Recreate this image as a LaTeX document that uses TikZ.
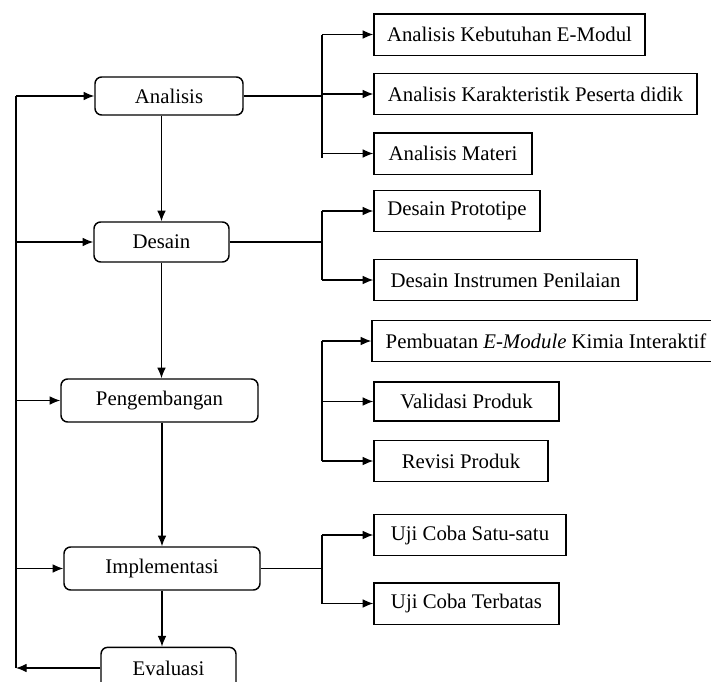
\documentclass[tikz,border=0pt]{standalone}
\usepackage{fontspec}
\setmainfont{Liberation Serif}
\usepackage{tikz}
\usetikzlibrary{arrows.meta}

\begin{document}
\begin{tikzpicture}[x=0.75pt,y=-0.75pt,
tahap/.style={draw,line width=1.1pt,rounded corners=5pt,inner sep=0pt,minimum width=#1,minimum height=31pt},
kotak/.style={draw,line width=1pt,inner sep=0pt,minimum width=#1,minimum height=31pt},
panah/.style={-{Latex[length=8pt,width=6.5pt]}},
garis/.style={line width=0.9pt}]
\useasboundingbox (0,0) rectangle (711,682);
\clip (0,0) rectangle (711,682);
\fontsize{15.6}{18}\selectfont

\node[tahap=111pt,minimum height=28.5pt] (ana) at (169,96) {Analisis};
\node[tahap=101.25pt,minimum height=30pt] (des) at (161.5,242) {Desain};
\node[tahap=147.75pt,minimum height=32.25pt] (peng) at (159.5,400.5) {Pengembangan};
\node[tahap=147pt,minimum height=32.25pt] (impl) at (162,568.5) {Implementasi};
\node[tahap=101.25pt] (eval) at (168.5,668) {Evaluasi};

\node[kotak=203.25pt] (keb) at (509.5,34.5) {Analisis Kebutuhan E-Modul};
\node[kotak=242.25pt] (kar) at (535.5,94) {Analisis Karakteristik Peserta didik};
\node[kotak=118.5pt] (mat) at (453,153.5) {Analisis Materi};
\node[kotak=124.5pt] (pro) at (457,211) {Desain Prototipe};
\node[kotak=197.25pt] (ins) at (505.5,280) {Desain Instrumen Penilaian};
\node[kotak=261pt] (pem) at (546,341) {Pembuatan \textit{E-Module} Kimia Interaktif};
\node[kotak=138.75pt,minimum height=29.25pt] (val) at (466.5,401.5) {Validasi Produk};
\node[kotak=130.5pt] (rev) at (461,461) {Revisi Produk};
\node[kotak=144pt] (sat) at (470,535) {Uji Coba Satu-satu};
\node[kotak=138.75pt] (ter) at (466.5,603.5) {Uji Coba Terbatas};

\coordinate (fb) at (16,0);
\coordinate (bx) at (322,0);

\draw[garis,panah] (ana.south -| des) -- (des);
\draw[garis,panah] (des) -- (des |- peng.north);
\draw[garis,panah] (peng.south -| impl) -- (impl);
\draw[garis,panah] (impl) -- (impl |- eval.north);

\draw[garis,panah] (eval.west) -- (eval.west -| fb);
\draw[garis] (fb |- eval.west) -- (fb |- ana.west);
\foreach \n in {ana,des,peng,impl}
\draw[garis,panah] (fb |- \n.west) -- (\n.west);

\draw[garis] (ana.east) -- (ana.east -| bx);
\draw[garis] (bx |- keb.west) -- ([yshift=-3pt]bx |- mat.west);
\foreach \n in {keb,kar,mat}
\draw[garis,panah] (bx |- \n.west) -- (\n.west);

\draw[garis] (des.east) -- (des.east -| bx);
\draw[garis] (bx |- pro.west) -- (bx |- ins.west);
\foreach \n in {pro,ins}
\draw[garis,panah] (bx |- \n.west) -- (\n.west);

\draw[garis] (bx |- pem.west) -- (bx |- rev.west);
\foreach \n in {pem,val,rev}
\draw[garis,panah] (bx |- \n.west) -- (\n.west);

\draw[garis] (impl.east) -- (impl.east -| bx);
\draw[garis] (bx |- sat.west) -- (bx |- ter.west);
\foreach \n in {sat,ter}
\draw[garis,panah] (bx |- \n.west) -- (\n.west);

\end{tikzpicture}
\end{document}
